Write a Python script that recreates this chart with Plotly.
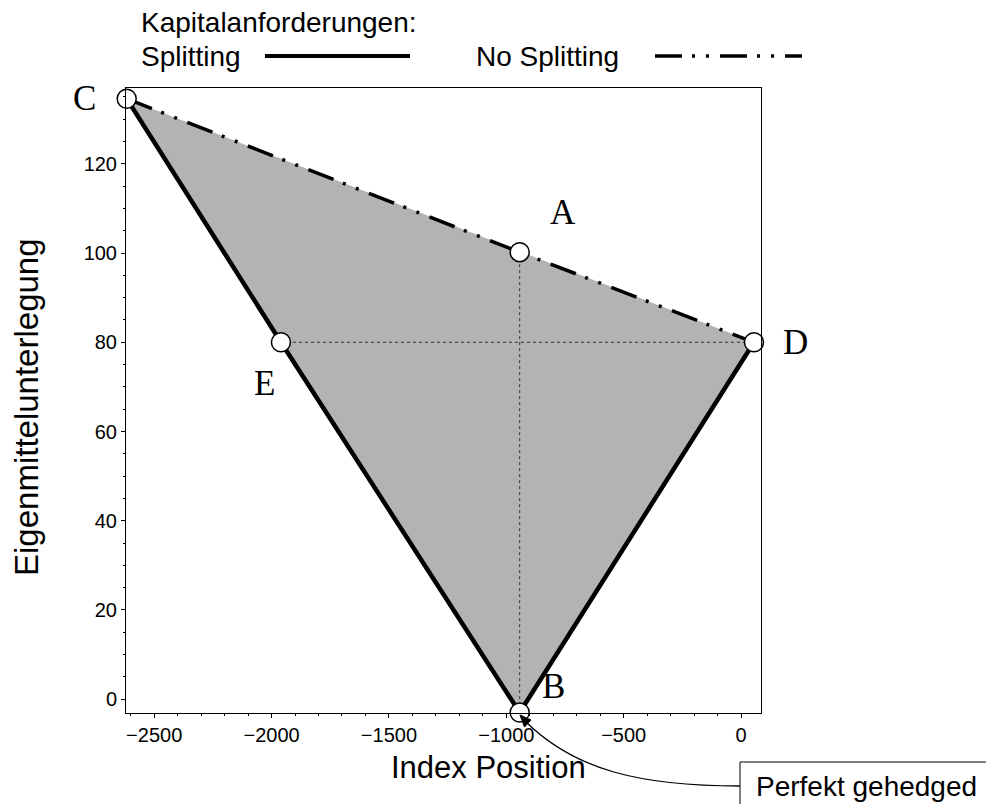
import plotly.graph_objects as go

# ---------------- data ----------------
point_names = ["C", "A", "D", "E", "B"]
point_x = [-2617, -943, 55, -1960, -943]
point_y = [134.6, 100.2, 80, 80, -3.0]

splitting_x = [-2617, -1960, -943, 55]
splitting_y = [134.6, 80, -3.0, 80]

nosplit_x = [-2617, -943, 55]
nosplit_y = [134.6, 100.2, 80]

area_x = [-2617, 55, -943]
area_y = [134.6, 80, -3.0]

guide_h_x = [-1960, 55]
guide_h_y = [80, 80]
guide_v_x = [-943, -943]
guide_v_y = [100.2, -3.0]

x_ticks = [-2500, -2000, -1500, -1000, -500, 0]
x_tick_text = ["\u22122500", "\u22122000", "\u22121500", "\u22121000", "\u2212500", "0"]
y_ticks = [0, 20, 40, 60, 80, 100, 120]
y_tick_text = ["0", "20", "40", "60", "80", "100", "120"]

# ---------------- layout geometry ----------------
W, H = 986, 804
ML, MR, MT, MB = 126, 225, 88, 91
PW, PH = W - ML - MR, H - MT - MB


def px(xp):
    return (xp - ML) / PW


def py(yp):
    return (H - MB - yp) / PH


SANS = "Liberation Sans, Arial, sans-serif"
SERIF = "Liberation Serif, Times New Roman, serif"
DASH = "27px,10px,3px,11px,3px,11px"

fig = go.Figure()

fig.add_trace(go.Scatter(x=area_x, y=area_y, fill="toself", fillcolor="#b3b3b3",
                         mode="none", hoverinfo="skip", showlegend=False))
fig.add_trace(go.Scatter(x=guide_h_x, y=guide_h_y, mode="lines",
                         line=dict(color="#333333", width=1, dash="dot"), showlegend=False))
fig.add_trace(go.Scatter(x=guide_v_x, y=guide_v_y, mode="lines",
                         line=dict(color="#333333", width=1, dash="dot"), showlegend=False))
fig.add_trace(go.Scatter(x=nosplit_x, y=nosplit_y, mode="lines", name="No Splitting",
                         line=dict(color="black", width=3.5, dash=DASH), showlegend=False))
fig.add_trace(go.Scatter(x=splitting_x, y=splitting_y, mode="lines", name="Splitting",
                         line=dict(color="black", width=4.5), showlegend=False))
fig.add_trace(go.Scatter(x=point_x, y=point_y, mode="markers", cliponaxis=False,
                         marker=dict(size=19, color="white", line=dict(color="black", width=1.5)),
                         showlegend=False))

label_shift = {"C": (-42, 0), "A": (43, 40), "D": (42, 0), "E": (-16, -41), "B": (34, 26)}
annotations = []
for n, xv, yv in zip(point_names, point_x, point_y):
    dx, dy = label_shift[n]
    annotations.append(dict(x=xv, y=yv, xref="x", yref="y", text=n, showarrow=False,
                            xshift=dx, yshift=dy, font=dict(family=SERIF, size=35, color="black")))

# legend texts
annotations += [
    dict(x=px(139), y=py(22), xref="paper", yref="paper", text="Kapitalanforderungen:",
         showarrow=False, xanchor="left", yanchor="middle", font=dict(family=SANS, size=28, color="black")),
    dict(x=px(139), y=py(56), xref="paper", yref="paper", text="Splitting",
         showarrow=False, xanchor="left", yanchor="middle", font=dict(family=SANS, size=28, color="black")),
    dict(x=px(474), y=py(56), xref="paper", yref="paper", text="No Splitting",
         showarrow=False, xanchor="left", yanchor="middle", font=dict(family=SANS, size=28, color="black")),
    dict(x=px(754), y=py(786), xref="paper", yref="paper", text="Perfekt gehedged",
         showarrow=False, xanchor="left", yanchor="middle", font=dict(family=SANS, size=28, color="black")),
    dict(x=px(488), y=py(767), xref="paper", yref="paper", text="Index Position",
         showarrow=False, xanchor="center", yanchor="middle", font=dict(family=SANS, size=31, color="black")),
    dict(x=px(26), y=py(407), xref="paper", yref="paper", text="Eigenmittelunterlegung",
         showarrow=False, textangle=-90, xanchor="center", yanchor="middle",
         font=dict(family=SANS, size=33, color="black")),
]

shapes = [
    dict(type="line", xref="paper", yref="paper", x0=px(265), x1=px(410), y0=py(56), y1=py(56),
         line=dict(color="black", width=4)),
    dict(type="line", xref="paper", yref="paper", x0=px(655), x1=px(802), y0=py(56), y1=py(56),
         line=dict(color="black", width=3.5, dash=DASH)),
    dict(type="rect", xref="paper", yref="paper", x0=px(740), x1=px(1000), y0=py(840), y1=py(762),
         line=dict(color="black", width=1), fillcolor="white"),
    dict(type="path", xref="paper", yref="paper",
         path=f"M {px(740)},{py(786)} C {px(640)},{py(786)} {px(575)},{py(770)} {px(526)},{py(722)}",
         line=dict(color="black", width=1.3)),
    dict(type="path", xref="paper", yref="paper",
         path=f"M {px(520)},{py(715)} L {px(531)},{py(720)} L {px(524.5)},{py(727)} Z",
         line=dict(color="black", width=1), fillcolor="black"),
]

axis_common = dict(showgrid=False, zeroline=False, showline=True, linecolor="black", linewidth=1,
                   mirror=True, ticks="outside", ticklen=4, tickcolor="black",
                   tickfont=dict(family=SANS, size=20, color="black"))

fig.update_layout(
    width=W, height=H, margin=dict(l=ML, r=MR, t=MT, b=MB),
    paper_bgcolor="white", plot_bgcolor="white",
    xaxis=dict(range=[-2620, 85], tickvals=x_ticks, ticktext=x_tick_text,
               minor=dict(dtick=100, tick0=0, ticks="outside", ticklen=2, tickcolor="black"),
               **axis_common),
    yaxis=dict(range=[-3.1, 137], tickvals=y_ticks, ticktext=y_tick_text,
               minor=dict(dtick=5, tick0=0, ticks="outside", ticklen=2, tickcolor="black"),
               **axis_common),
    annotations=annotations, shapes=shapes, showlegend=False,
)

fig.write_html("out.html", config={"displayModeBar": False},
               post_script="document.body.style.margin='0';")
